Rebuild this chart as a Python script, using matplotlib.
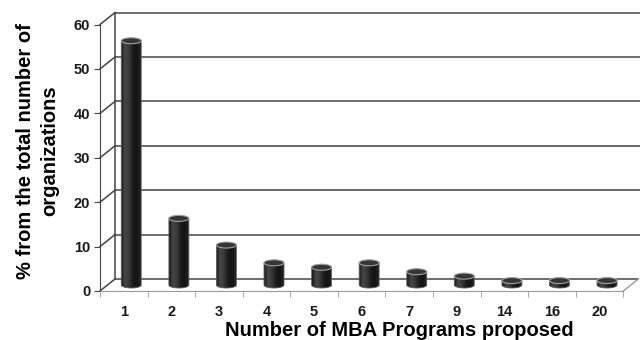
import numpy as np
import matplotlib
matplotlib.use("Agg")
import matplotlib.pyplot as plt
from matplotlib.patches import Ellipse, Polygon
from matplotlib.colors import LinearSegmentedColormap

# Share of organizations by number of MBA programs proposed
programs = ["1", "2", "3", "4", "5", "6", "7", "9", "14", "16", "20"]
share = [55, 15, 9, 5, 4, 5, 3, 2, 1, 1, 1]
y_ticks = [0, 10, 20, 30, 40, 50, 60]

plt.rcParams["font.family"] = ["Liberation Sans", "DejaVu Sans"]
plt.rcParams["font.weight"] = "bold"

# pseudo-3D geometry (data units)
depth_dx = 0.315   # back wall shift along x
depth_dy = 2.7     # back wall shift along y
cyl_w = 0.42
cyl_eh = 1.35
n = len(programs)
xmax = 11.35
ymax = 62.6

fig = plt.figure(figsize=(6.4, 3.4), dpi=100)
ax = fig.add_axes([100 / 640, 49 / 340, 540 / 640, 278 / 340])
ax.set_xlim(0, xmax)
ax.set_ylim(0, ymax)

grid_c = "#454545"
# back wall gridlines and left wall diagonals
for v in y_ticks:
    x_end = n + depth_dx if v == 0 else xmax
    ax.plot([depth_dx, x_end], [v + depth_dy, v + depth_dy], color=grid_c, lw=1.1, zorder=1, clip_on=False)
    ax.plot([0, depth_dx], [v, v + depth_dy], color=grid_c, lw=1.1, zorder=1, clip_on=False)
ax.plot([depth_dx, depth_dx], [depth_dy, y_ticks[-1] + depth_dy], color=grid_c, lw=1.1, zorder=1, clip_on=False)
# floor right edge
ax.plot([n, n + depth_dx], [0, depth_dy], color="#9a9a9a", lw=1.0, zorder=1, clip_on=False)

# cylinders
body_cmap = LinearSegmentedColormap.from_list(
    "cyl", ["#1a1a1a", "#484848", "#383838", "#1c1c1c", "#131313", "#262626"])
grad = np.linspace(0, 1, 64).reshape(1, -1)
t = np.linspace(np.pi, 2 * np.pi, 40)
for i, v in enumerate(share):
    cx = i + 0.5 + depth_dx / 2
    base = depth_dy / 2
    top = base + v
    x0, x1 = cx - cyl_w / 2, cx + cyl_w / 2
    bottom_x = cx + cyl_w / 2 * np.cos(t)
    bottom_y = base + cyl_eh / 2 * np.sin(t)
    verts = np.column_stack([
        np.concatenate([[x0], bottom_x, [x1]]),
        np.concatenate([[top], bottom_y, [top]]),
    ])
    body = Polygon(verts, closed=True, fc="none", ec="#5a5a5a", lw=0.6, zorder=3)
    ax.add_patch(body)
    img = ax.imshow(grad, extent=[x0, x1, base - cyl_eh / 2, top], aspect="auto",
                    cmap=body_cmap, zorder=2.5, interpolation="bilinear")
    img.set_clip_path(body)
    cap = Ellipse((cx, top), cyl_w, cyl_eh, fc="#363636", ec="#a0a0a0", lw=0.8, zorder=4)
    ax.add_patch(cap)

ax.set_xlim(0, xmax)
ax.set_ylim(0, ymax)

# axes: front left edge and floor front edge
for s in ["top", "right"]:
    ax.spines[s].set_visible(False)
ax.spines["left"].set_bounds(0, 60)
ax.spines["left"].set_color(grid_c)
ax.spines["bottom"].set_bounds(0, n)
ax.spines["bottom"].set_color("#9a9a9a")
ax.set_yticks(y_ticks)
ax.set_yticklabels([str(v) for v in y_ticks], fontsize=10.5, fontweight="bold", color="#1a1a1a")
ax.tick_params(axis="y", length=4, color=grid_c, pad=3)
ax.set_xticks(np.arange(n) + 0.5)
ax.set_xticklabels(programs, fontsize=10.5, fontweight="bold", color="#1a1a1a")
ax.set_xticks(np.arange(n + 1), minor=True)
ax.tick_params(axis="x", which="major", length=0, pad=10)
ax.tick_params(axis="x", which="minor", length=4, color="#9a9a9a")
ax.set_xlabel("Number of MBA Programs proposed", fontsize=14.5, fontweight="bold", va="center")
ax.xaxis.set_label_coords(299 / 540, -39 / 278)

fig.text(38 / 640, 1 - 151 / 340, "% from the total number of\norganizations", rotation=90,
         ha="center", va="center", fontsize=14.5, fontweight="bold", linespacing=1.35)

fig.savefig("out.png", dpi=100)
